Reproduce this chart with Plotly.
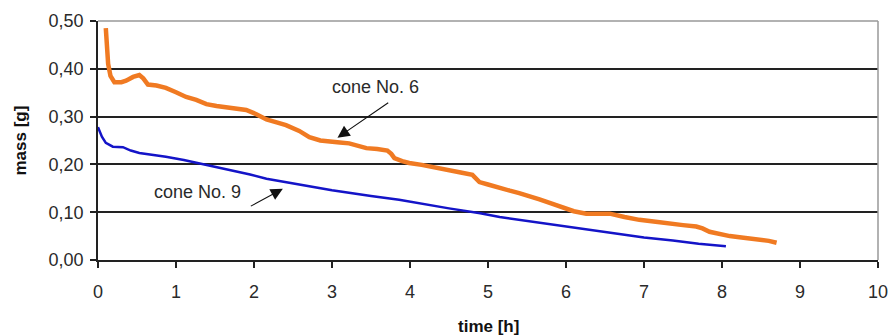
import plotly.graph_objects as go

# cone No. 6 (orange)
t6 = [0.10, 0.11, 0.13, 0.16, 0.21, 0.30, 0.36, 0.45, 0.53, 0.58, 0.64, 0.75, 0.87, 1.0, 1.13, 1.26, 1.39,
      1.52, 1.65, 1.78, 1.9, 2.03, 2.16, 2.29, 2.41, 2.58, 2.71, 2.85, 2.97, 3.1, 3.22, 3.33, 3.44, 3.58,
      3.71, 3.76, 3.80, 3.9, 3.99, 4.15, 4.29, 4.4, 4.51, 4.65, 4.8, 4.85, 4.89, 5.0, 5.15, 5.28, 5.4,
      5.53, 5.66, 5.8, 5.96, 6.1, 6.26, 6.4, 6.56, 6.75, 6.94, 7.15, 7.37, 7.5, 7.67, 7.75, 7.84, 7.95,
      8.1, 8.25, 8.44, 8.6, 8.7]
m6 = [0.485, 0.46, 0.41, 0.385, 0.372, 0.372, 0.375, 0.383, 0.387, 0.38, 0.367, 0.365, 0.36, 0.351, 0.341,
      0.335, 0.326, 0.322, 0.32, 0.318, 0.314, 0.305, 0.294, 0.288, 0.282, 0.270, 0.257, 0.25, 0.247,
      0.246, 0.244, 0.238, 0.234, 0.232, 0.229, 0.222, 0.213, 0.207, 0.203, 0.199, 0.195, 0.191, 0.188,
      0.183, 0.178, 0.17, 0.163, 0.158, 0.150, 0.145, 0.140, 0.134, 0.127, 0.119, 0.109, 0.102, 0.097,
      0.097, 0.097, 0.09, 0.084, 0.08, 0.077, 0.073, 0.07, 0.066, 0.059, 0.055, 0.05, 0.047, 0.044, 0.04,
      0.036]

# cone No. 9 (blue)
t9 = [0.0, 0.05, 0.1, 0.19, 0.32, 0.42, 0.53, 0.7, 0.87, 1.1, 1.3, 1.5, 1.73, 1.95, 2.16, 2.4, 2.58,
      3.0, 3.5, 3.86, 4.5, 4.9, 5.15, 5.8, 6.43, 6.72, 7.0, 7.37, 7.7, 8.05]
m9 = [0.278, 0.258, 0.245, 0.237, 0.236, 0.229, 0.224, 0.220, 0.216, 0.209, 0.202, 0.195, 0.188, 0.179,
      0.170, 0.163, 0.157, 0.146, 0.134, 0.126, 0.108, 0.098, 0.090, 0.075, 0.059, 0.053, 0.047, 0.041,
      0.034, 0.029]

x_ticks = [0, 1, 2, 3, 4, 5, 6, 7, 8, 9, 10]
y_ticks = [0.0, 0.1, 0.2, 0.3, 0.4, 0.5]
y_tick_text = ["0,00", "0,10", "0,20", "0,30", "0,40", "0,50"]
x_title = "time [h]"
y_title = "mass [g]"

FONT = "Liberation Sans, Arial, sans-serif"
TXT = "#2a2a2a"

fig = go.Figure()
fig.add_trace(go.Scatter(x=t6, y=m6, mode="lines", line=dict(color="#F07A22", width=4.5), showlegend=False))
fig.add_trace(go.Scatter(x=t9, y=m9, mode="lines", line=dict(color="#1414C8", width=2.5), showlegend=False))

fig.update_layout(
    width=890, height=336,
    margin=dict(l=98, r=12, t=21, b=76),
    paper_bgcolor="white", plot_bgcolor="white",
    font=dict(family=FONT, size=18, color=TXT),
    xaxis=dict(range=[0, 10], tickvals=x_ticks, ticktext=[str(v) for v in x_ticks],
               showgrid=False, zeroline=False, showline=True, linecolor="#222", linewidth=1.5,
               ticks="outside", ticklen=6, tickcolor="#222", tickwidth=1.5, ticklabelstandoff=9,
               tickfont=dict(size=18, color=TXT), automargin=False),
    yaxis=dict(range=[0, 0.5], tickvals=y_ticks, ticktext=y_tick_text,
               showgrid=True, gridcolor="#222", gridwidth=1.5, zeroline=False,
               showline=True, linecolor="#222", linewidth=1.5,
               ticks="outside", ticklen=6, tickcolor="#222", tickwidth=1.5, ticklabelstandoff=3,
               tickfont=dict(size=18, color=TXT), automargin=False),
    shapes=[
        dict(type="line", xref="paper", yref="paper", x0=0, x1=1, y0=1, y1=1,
             line=dict(color="#999", width=1.5), layer="above"),
        dict(type="line", xref="paper", yref="paper", x0=1, x1=1, y0=0, y1=1,
             line=dict(color="#999", width=1.5), layer="above"),
    ],
    annotations=[
        dict(x=0.5, y=0, xref="paper", yref="paper", yanchor="middle", yshift=-66,
             text="<b>" + x_title + "</b>", showarrow=False, font=dict(size=17, color="#111")),
        dict(x=0, y=0.5, xref="paper", yref="paper", xanchor="center", xshift=-78, textangle=-90,
             text="<b>" + y_title + "</b>", showarrow=False, font=dict(size=17, color="#111")),
        dict(x=3.56, y=0.362, text="cone No. 6", showarrow=False, font=dict(size=18, color=TXT)),
        dict(x=1.28, y=0.143, text="cone No. 9", showarrow=False, font=dict(size=18, color=TXT)),
        dict(x=3.07, y=0.256, ax=3.74, ay=0.331, axref="x", ayref="y", text="", showarrow=True,
             arrowhead=2, arrowsize=2.2, arrowwidth=1.1, arrowcolor="#111", standoff=0),
        dict(x=2.37, y=0.149, ax=1.94, ay=0.111, axref="x", ayref="y", text="", showarrow=True,
             arrowhead=2, arrowsize=2.2, arrowwidth=1.1, arrowcolor="#111", standoff=0),
    ],
)

fig.write_html("out.html")
